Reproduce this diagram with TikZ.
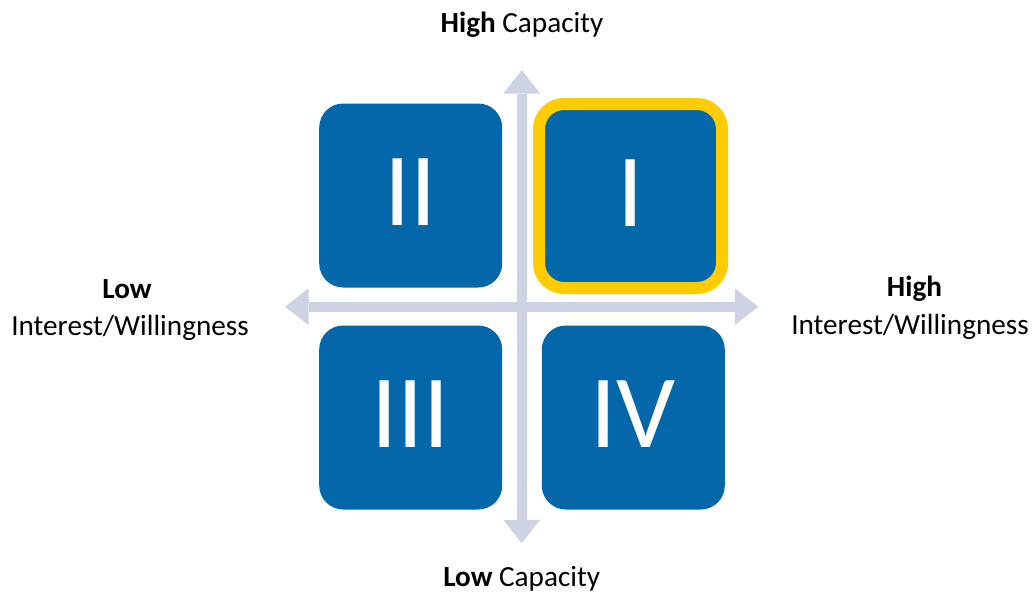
\documentclass[tikz,border=0pt]{standalone}
\usepackage{fontspec}
\usepackage{tikz}
\usepackage{xcolor}
\usetikzlibrary{arrows.meta}
\setmainfont{Carlito}

\definecolor{quadblue}{RGB}{3,103,170}
\definecolor{ringgold}{RGB}{255,204,0}
\definecolor{axisgrey}{RGB}{205,211,226}

\begin{document}
\begin{tikzpicture}[x=1pt,y=-1pt]
			\useasboundingbox (0,0) rectangle (1036,594);
			\tikzstyle{axis}=[line width=10pt,draw=axisgrey,{Triangle[length=23.5pt,width=36.7pt,line width=0pt]}-{Triangle[length=23.5pt,width=36.7pt,line width=0pt]}]
			\tikzstyle{quad}=[rectangle,rounded corners=24pt,fill=quadblue,text=white,minimum width=183pt,minimum height=184pt,inner sep=0pt,text height=67pt,text depth=7pt,font=\fontsize{104}{104}\selectfont]
			\tikzstyle{axlabel}=[anchor=base,inner sep=0pt,font=\fontsize{29.2}{35}\selectfont]
			% axis ends
			\coordinate (capup) at (521.7,70);
			\coordinate (capdown) at (521.7,543.3);
			\coordinate (willlow) at (285,306.7);
			\coordinate (willhigh) at (758.3,306.7);
			\draw[axis] (capdown) -- (capup);
			\draw[axis] (willlow) -- (willhigh);
			% quadrants
			\node[quad] (quadII) at (410.7,195.5) {II};
			\node[quad,draw=ringgold,line width=12pt,rounded corners=25pt] (quadI) at (630.5,196) {I};
			\node[quad] (quadIII) at (410.7,417.5) {III};
			\node[quad] (quadIV) at (633.3,417.5) {IV};
			% labels
			\node[axlabel] (caphigh) at (522,32.3) {\textbf{High} Capacity};
			\node[axlabel] (caplow) at (521.7,586.7) {\textbf{Low} Capacity};
			\node[axlabel] (lowword) at (127,298.3) {\textbf{Low}};
			\node[axlabel] (lowwill) at (130,335.7) {Interest/Willingness};
			\node[axlabel] (highword) at (914.5,296.7) {\textbf{High}};
			\node[axlabel] (highwill) at (910,334) {Interest/Willingness};
		\end{tikzpicture}
\end{document}
